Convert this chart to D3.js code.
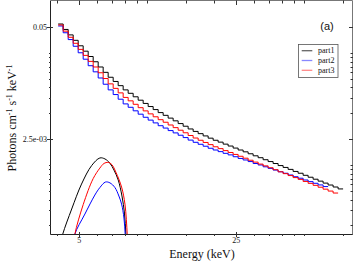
<!DOCTYPE html>
<html>
<head>
<meta charset="utf-8">
<script src="https://cdn.jsdelivr.net/npm/d3@7"></script>
<style>
  body { margin: 0; background: #fff; }
  svg { display: block; }
  .lbl { font-family: "Liberation Serif", "Times New Roman", serif; fill: #111; }
</style>
</head>
<body>
<svg id="chart" width="354" height="264"></svg>
<script>
// channel edges (keV), shared by the three spectra
const energyEdges = [
  4.031, 4.243, 4.466, 4.701, 4.948, 5.208, 5.482, 5.770, 6.073, 6.392,
  6.728, 7.082, 7.454, 7.846, 8.258, 8.692, 9.149, 9.630, 10.136, 10.669,
  11.230, 11.820, 12.441, 13.095, 13.783, 14.507, 15.270, 16.072, 16.917, 17.806,
  18.742, 19.727, 20.764, 21.855, 23.004, 24.213, 25.485, 26.825, 28.235, 29.718,
  31.280, 32.924, 34.655, 36.476, 38.393, 40.411, 42.535, 44.770, 47.123, 49.600,
  52.207, 54.951, 57.839, 60.879, 64.078, 67.446, 70.991, 74.722, 78.650
];

// photons cm^-1 s^-1 keV^-1 per channel
const part1Flux = [
  0.0546, 0.0472, 0.0408, 0.0353, 0.0305, 0.0264, 0.0229, 0.0199, 0.0173, 0.0150,
  0.01315, 0.01175, 0.01050, 0.00938, 0.00856, 0.00780, 0.00712, 0.00653, 0.00601, 0.00554,
  0.00511, 0.00475, 0.00441, 0.00410, 0.00381, 0.00355, 0.00330, 0.00309, 0.00291, 0.00274,
  0.00258, 0.00244, 0.00232, 0.00220, 0.00209, 0.00198, 0.00188, 0.00179, 0.00170, 0.00161,
  0.00153, 0.00145, 0.00138, 0.00131, 0.00124, 0.00118, 0.00112, 0.00106, 0.00101, 0.000956,
  0.000908, 0.000861, 0.000818, 0.000776, 0.000737, 0.000699, 0.000664
];
const part2Flux = [
  0.0518, 0.0432, 0.0360, 0.0301, 0.0253, 0.0213, 0.0179, 0.0152, 0.01289, 0.01091,
  0.00938, 0.00828, 0.00731, 0.00645, 0.00589, 0.00536, 0.00490, 0.00451, 0.00418, 0.00388,
  0.00360, 0.00338, 0.00316, 0.00297, 0.00279, 0.00262, 0.00245, 0.00231, 0.00219, 0.00208,
  0.00197, 0.00188, 0.00180, 0.00172, 0.00165, 0.00157, 0.00150, 0.00144, 0.00138, 0.00131,
  0.00126, 0.00120, 0.00115, 0.00110, 0.00105, 0.00101, 0.000964, 0.000920, 0.000884, 0.000843,
  0.000807, 0.000772, 0.000739, 0.000707
];
const part3Flux = [
  0.0532, 0.0451, 0.0383, 0.0326, 0.0277, 0.0236, 0.0201, 0.0173, 0.01483, 0.01271,
  0.01102, 0.00977, 0.00866, 0.00767, 0.00700, 0.00638, 0.00583, 0.00535, 0.00494, 0.00457,
  0.00423, 0.00395, 0.00367, 0.00342, 0.00319, 0.00298, 0.00277, 0.00259, 0.00244, 0.00230,
  0.00217, 0.00205, 0.00195, 0.00185, 0.00176, 0.00167, 0.00159, 0.00151, 0.00143, 0.00136,
  0.00129, 0.00123, 0.00117, 0.00111, 0.00105, 0.000999, 0.000949, 0.000899, 0.000857, 0.000811,
  0.000771, 0.000731, 0.000695, 0.000660, 0.000627, 0.000595
];

// thermal model components
const bump1Energy = [4.06, 4.22, 4.63, 5.12, 5.68, 6.18, 6.51, 6.85, 7.14, 7.46, 7.75, 7.95, 8.07, 8.16];
const bump1Flux = [1.30e-4, 1.97e-4, 3.88e-4, 7.56e-4, 1.24e-3, 1.52e-3, 1.48e-3, 1.32e-3, 1.10e-3, 8.42e-4, 5.49e-4, 3.48e-4, 1.97e-4, 1.13e-4];
const bump2Energy = [4.69, 4.78, 5.30, 5.87, 6.18, 6.54, 6.85, 7.21, 7.51, 7.72, 7.91, 8.01, 8.07];
const bump2Flux = [1.30e-4, 1.97e-4, 3.39e-4, 5.64e-4, 6.89e-4, 7.98e-4, 7.81e-4, 6.89e-4, 5.49e-4, 4.43e-4, 3.05e-4, 1.97e-4, 1.30e-4];
const bump3Energy = [4.69, 4.78, 5.21, 5.77, 6.18, 6.44, 6.73, 6.99, 7.28, 7.72, 7.99, 8.18, 8.24];
const bump3Flux = [1.30e-4, 1.97e-4, 4.37e-4, 8.76e-4, 1.16e-3, 1.31e-3, 1.35e-3, 1.27e-3, 1.04e-3, 6.98e-4, 4.43e-4, 1.97e-4, 1.30e-4];

const seriesNames = ['part1', 'part2', 'part3'];
const seriesColors = ['#000000', '#0000ff', '#ff0000'];
const legendColors = ['#666666', '#8888ff', '#ff8888'];

const xMajorTicks = [5, 25];
const xMinorTicks = [4, 6, 7, 8, 9, 10, 15, 20, 30, 35, 40, 45, 50, 75];
const yMajorTicks = [0.0025, 0.05];
const yMinorTicks = [2.5e-4, 3.75e-4, 5e-4, 6.25e-4, 7.5e-4, 8.75e-4, 1e-3, 1.125e-3, 1.25e-3,
  5e-3, 7.5e-3, 0.01, 0.0125, 0.015, 0.0175, 0.02, 0.0225, 0.025];
const yTickLabels = { 0.0025: '2.5e-03', 0.05: '0.05' };

const plotLeft = 51, plotRight = 353, plotTop = 1, plotBottom = 234;

const svg = d3.select('#chart');

const x = d3.scaleLog().domain([3.745, 82.7]).range([plotLeft, plotRight]);
const y = d3.scaleLog().domain([1.99e-4, 0.101]).range([plotBottom, plotTop]);

svg.append('clipPath')
  .attr('id', 'plot-clip')
  .append('rect')
  .attr('x', plotLeft)
  .attr('y', plotTop)
  .attr('width', plotRight - plotLeft)
  .attr('height', plotBottom - plotTop);

const plot = svg.append('g').attr('clip-path', 'url(#plot-clip)');

// stepped spectra
const stepLine = d3.line()
  .x(d => x(d[0]))
  .y(d => y(d[1]))
  .curve(d3.curveStepAfter);

[part1Flux, part2Flux, part3Flux].forEach((flux, i) => {
  const pts = flux.map((f, k) => [energyEdges[k], f]);
  pts.push([energyEdges[flux.length], flux[flux.length - 1]]);
  plot.append('path')
    .datum(pts)
    .attr('fill', 'none')
    .attr('stroke', seriesColors[i])
    .attr('stroke-width', 1)
    .attr('d', stepLine);
});

// model bumps
const smoothLine = d3.line()
  .x(d => x(d[0]))
  .y(d => y(d[1]))
  .curve(d3.curveCatmullRom);

[[bump1Energy, bump1Flux], [bump2Energy, bump2Flux], [bump3Energy, bump3Flux]].forEach(([es, fs], i) => {
  plot.append('path')
    .datum(es.map((e, k) => [e, fs[k]]))
    .attr('fill', 'none')
    .attr('stroke', seriesColors[i])
    .attr('stroke-width', 1)
    .attr('d', smoothLine);
});

// frame: left/bottom dark, top/right lighter
const frame = svg.append('g').attr('fill', 'none').attr('stroke-width', 1);
frame.append('path')
  .attr('d', `M${plotLeft - 0.5},${plotTop - 0.5}V${plotBottom + 0.5}H${plotRight}`)
  .attr('stroke', '#222');
frame.append('path')
  .attr('d', `M${plotLeft - 0.5},${plotTop - 0.5}H${plotRight - 0.5}V${plotBottom + 0.5}`)
  .attr('stroke', '#777');

// ticks: left/bottom straddle the frame, top/right point inward
const ticks = svg.append('g').attr('stroke', '#333').attr('stroke-width', 1);

function xTicks(values, bIn, bOut, tIn) {
  values.forEach(v => {
    const px = Math.round(x(v)) + 0.5;
    ticks.append('line').attr('x1', px).attr('x2', px)
      .attr('y1', plotBottom - bIn).attr('y2', plotBottom + bOut);
    ticks.append('line').attr('x1', px).attr('x2', px)
      .attr('y1', plotTop - 0.5).attr('y2', plotTop + tIn);
  });
}
function yTicks(values, lIn, lOut, rIn) {
  values.forEach(v => {
    const py = Math.round(y(v)) + 0.5;
    ticks.append('line').attr('y1', py).attr('y2', py)
      .attr('x1', plotLeft - lOut).attr('x2', plotLeft + lIn);
    ticks.append('line').attr('y1', py).attr('y2', py)
      .attr('x1', plotRight - rIn).attr('x2', plotRight);
  });
}
xTicks(xMajorTicks, 2, 3, 4);
xTicks(xMinorTicks, 0, 2, 2.5);
yTicks(yMajorTicks, 2, 4, 4);
yTicks(yMinorTicks, 0, 2, 2.5);

// tick labels
svg.append('g').selectAll('text')
  .data(xMajorTicks)
  .join('text')
  .attr('class', 'lbl')
  .attr('x', d => x(d))
  .attr('y', plotBottom + 8.5)
  .attr('text-anchor', 'middle')
  .attr('font-size', 8)
  .text(d => d);

svg.append('g').selectAll('text')
  .data(yMajorTicks)
  .join('text')
  .attr('class', 'lbl')
  .attr('x', plotLeft - 4)
  .attr('y', d => y(d) + 2.5)
  .attr('text-anchor', 'end')
  .attr('font-size', 8)
  .text(d => yTickLabels[d]);

// axis titles
svg.append('text')
  .attr('class', 'lbl')
  .attr('x', 202)
  .attr('y', 258)
  .attr('text-anchor', 'middle')
  .attr('font-size', 12)
  .text('Energy (keV)');

const yTitle = svg.append('text')
  .attr('class', 'lbl')
  .attr('transform', 'translate(16,118) rotate(-90)')
  .attr('text-anchor', 'middle')
  .attr('font-size', 12);
[['Photons cm', 0], ['-1', -4], [' s', 4], ['-1', -4], [' keV', 4], ['-1', -4]].forEach(([t, dy]) => {
  yTitle.append('tspan')
    .attr('dy', dy)
    .attr('font-size', t === '-1' ? 8 : 12)
    .text(t);
});

// panel tag
svg.append('text')
  .attr('x', 327)
  .attr('y', 30)
  .attr('text-anchor', 'middle')
  .attr('font-family', '"Liberation Sans", Arial, sans-serif')
  .attr('font-size', 11)
  .attr('fill', '#111')
  .text('(a)');

// legend
const legend = svg.append('g');
legend.append('rect')
  .attr('x', 298.5).attr('y', 44.5)
  .attr('width', 39.5).attr('height', 33)
  .attr('fill', '#fff')
  .attr('stroke', '#555')
  .attr('stroke-width', 0.8);

seriesNames.forEach((name, i) => {
  const ly = 50.7 + i * 9.8;
  legend.append('line')
    .attr('x1', 301.7).attr('x2', 312.3)
    .attr('y1', ly).attr('y2', ly)
    .attr('stroke', legendColors[i])
    .attr('stroke-width', 1.3);
  legend.append('text')
    .attr('class', 'lbl')
    .attr('x', 318)
    .attr('y', ly + 2.5)
    .attr('font-size', 8)
    .text(name);
});
</script>
</body>
</html>
